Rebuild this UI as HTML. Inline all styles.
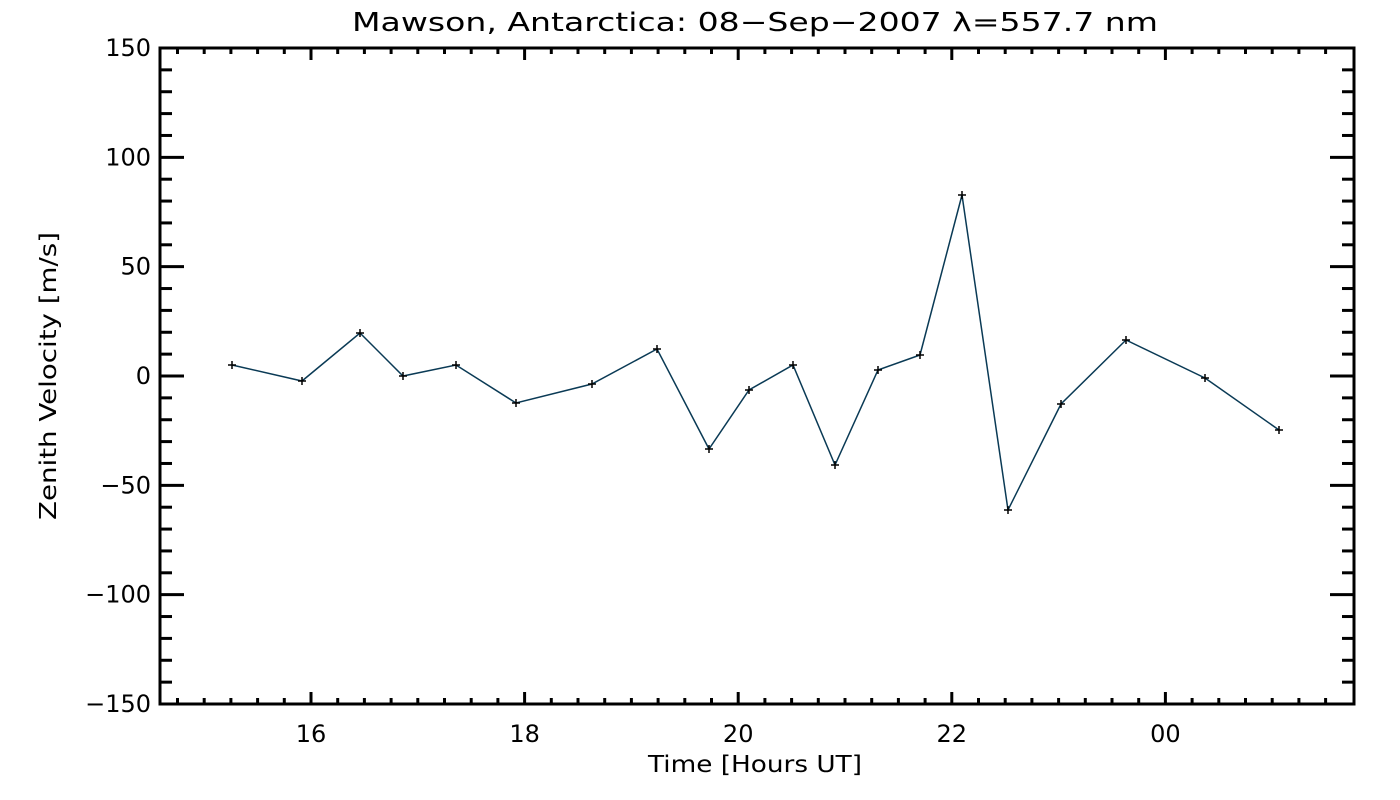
<!DOCTYPE html>
<html><head><meta charset="utf-8"><style>body{margin:0;background:#fff}svg{display:block}text{font-family:"DejaVu Sans","Liberation Sans",sans-serif;fill:#000}</style></head>
<body>
<svg id="s" width="1400" height="800" xmlns="http://www.w3.org/2000/svg">
<text x="755" y="31" font-size="26" text-anchor="middle" textLength="806" lengthAdjust="spacingAndGlyphs">Mawson, Antarctica: 08−Sep−2007 λ=557.7 nm</text>
<text x="755" y="772" font-size="23" text-anchor="middle" textLength="214" lengthAdjust="spacingAndGlyphs">Time [Hours UT]</text>
<text transform="translate(56,376) rotate(-90)" font-size="23" text-anchor="middle" textLength="288" lengthAdjust="spacingAndGlyphs">Zenith Velocity [m/s]</text>
<g id="ax" stroke="#000" stroke-width="3" fill="none"></g>
<g id="lab" font-size="24"></g>
<polyline id="ln" fill="none" stroke="#0a3a55" stroke-width="1.5"/>
<g id="pts" stroke="#000" stroke-width="1.5"></g>
</svg>
<script>
var ax=document.getElementById('ax'),lab=document.getElementById('lab'),ns='http://www.w3.org/2000/svg';
var L=160,R=1354,T=48,B=704;
function ln(x1,y1,x2,y2,p){var e=document.createElementNS(ns,'line');e.setAttribute('x1',x1);e.setAttribute('y1',y1);e.setAttribute('x2',x2);e.setAttribute('y2',y2);(p||ax).appendChild(e);}
function tx(x,y,s,a){var e=document.createElementNS(ns,'text');e.setAttribute('x',x);e.setAttribute('y',y);e.setAttribute('text-anchor',a);e.textContent=s;lab.appendChild(e);}
var r=document.createElementNS(ns,'rect');r.setAttribute('x',L);r.setAttribute('y',T);r.setAttribute('width',R-L);r.setAttribute('height',B-T);ax.appendChild(r);
function Y(v){return 376-v*2.1867;}
for(var v=-150;v<=150;v+=10){var y=Y(v),m=v%50==0,l=m?24:12;ln(L,y,L+l,y);ln(R,y,R-l,y);if(m)tx(151,y+8,(v<0?'−':'')+Math.abs(v),'end');}
var hp=106.8;
for(var k=-6;k<40;k++){var x=311+k*hp/4;if(x<=L+2||x>=R-2)continue;var m=k%8==0,l=m?12:6;ln(x,B,x,B-l);ln(x,T,x,T+l);if(m){var h=(16+k/4)%24;tx(x,742,(h<10?'0':'')+h,'middle');}}
var P=[[232,365],[302,381],[360,333],[403,376],[456,365],[516,403],[592,384],[657,349],[709,449],[749,390],[793,365],[835,465],[878,370],[920,355],[962,195],[1008,510],[1061,404],[1126,340],[1205,378],[1279,430]];
document.getElementById('ln').setAttribute('points',P.map(function(p){return p.join(',')}).join(' '));
var g=document.getElementById('pts');P.forEach(function(p){ln(p[0]-4,p[1],p[0]+4,p[1],g);ln(p[0],p[1]-4,p[0],p[1]+4,g);});
</script>
</body></html>
